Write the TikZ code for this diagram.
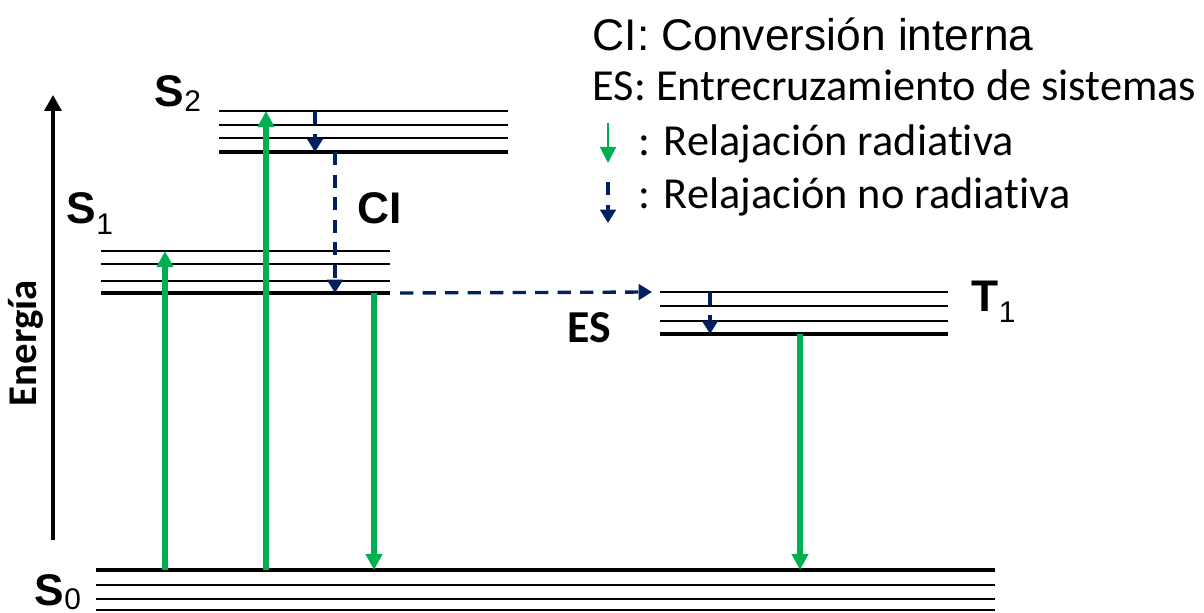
\documentclass[tikz,border=0pt]{standalone}
\usepackage{fontspec}
\setmainfont{Liberation Sans}
\newfontfamily\calibri[RawFeature={-liga;-clig;-dlig;-calt}]{Carlito}
\usetikzlibrary{arrows.meta}

\definecolor{radgreen}{RGB}{0,176,80}
\definecolor{nrblue}{RGB}{0,32,96}
\newcommand{\lowsub}[2][-3.2pt]{\raisebox{#1}{\fontsize{8.5}{8.5}\mdseries\selectfont #2}}

\tikzset{
  lvl/.style={line width=0.6pt},
  lvlzero/.style={line width=1.3pt},
  rad/.style={draw=radgreen, line width=1.5pt, -{Triangle[length=4.6pt,width=4.6pt]}},
  nrad/.style={draw=nrblue, line width=0.95pt, dash pattern=on 3.8pt off 2.6pt, -{Triangle[length=3.8pt,width=4.4pt]}},
  state/.style={font=\fontsize{12.6}{13}\selectfont\bfseries, anchor=base west, inner sep=0pt},
  legend/.style={font=\fontsize{12.6}{15}\selectfont, anchor=base west, inner sep=0pt}
}

\begin{document}
\begin{tikzpicture}[x=0.01cm,y=-0.01cm]
\useasboundingbox (0,0) rectangle (1204,612);

\coordinate (ebot) at (53,540);
\coordinate (etop) at (53,95);
\draw[line width=0.9pt,-{Triangle[length=4.5pt,width=4.8pt]}] (ebot) -- (etop);
\node[font=\calibri\fontsize{11.6}{12}\selectfont\bfseries, rotate=90, anchor=base west, inner sep=0pt] (energia) at (37,407) {Energía};

% niveles vibracionales
\foreach \y in {585,599,610} \draw[lvl] (96,\y) -- (995,\y);
\draw[lvlzero] (96,570) coordinate (S0) -- (995,570);
\foreach \y in {251,264,281} \draw[lvl] (101,\y) -- (390,\y);
\draw[lvlzero] (101,293) coordinate (S1) -- (390,293);
\foreach \y in {111,125,138} \draw[lvl] (219,\y) -- (508,\y);
\draw[lvlzero] (219,152) coordinate (S2) -- (508,152);
\foreach \y in {292,306,321} \draw[lvl] (660,\y) -- (948,\y);
\draw[lvlzero] (660,334) coordinate (T1) -- (948,334);
\coordinate (S1top) at (101,251);
\coordinate (S2top) at (219,111);
\coordinate (T1top) at (660,292);

\node[state] (s0lbl) at (34,605) {S\lowsub[-1.2pt]{0}};
\node[state] (s1lbl) at (66,223) {S\lowsub{1}};
\node[state] (s2lbl) at (154,106) {S\lowsub[-1.5pt]{2}};
\node[state] (t1lbl) at (971,311) {T\lowsub{1}};
\node[state] (cilbl) at (357,223) {CI};
\node[state, font=\calibri\fontsize{13}{13}\selectfont\bfseries] (eslbl) at (567,342) {ES};

\draw[rad] (165,0 |- S0) -- (165,0 |- S1top);
\draw[rad] (266,0 |- S0) -- (266,0 |- S2top);
\draw[rad] (374,0 |- S1) -- (374,0 |- S0);
\draw[rad] (800,0 |- T1) -- (800,0 |- S0);

\draw[nrad] (315,0 |- S2top) -- (315,0 |- S2);
\draw[nrad] (335,0 |- S2) -- (335,0 |- S1);
\draw[nrad] (710,0 |- T1top) -- (710,0 |- T1);
\draw[nrad] (400,0 |- S1) -- (652,0 |- T1top);

% leyenda
\node[legend] (leg1) at (592,50) {CI: Conversión interna};
\node[legend, font=\calibri\fontsize{12.6}{15}\selectfont] (leg2) at (592,100) {ES: Entrecruzamiento de sistemas};
\node[legend, font=\calibri\fontsize{12.6}{15}\selectfont] (leg3) at (638,155) {: Relajación radiativa};
\node[legend, font=\calibri\fontsize{12.6}{15}\selectfont] (leg4) at (638,208) {: Relajación no radiativa};
\coordinate (lgA) at (608,123);
\coordinate (lgB) at (608,163);
\coordinate (lgC) at (608,182);
\coordinate (lgD) at (608,223);
\draw[rad, line width=0.6pt] (lgA) -- (lgB);
\draw[nrad] (lgC) -- (lgD);
\end{tikzpicture}
\end{document}
